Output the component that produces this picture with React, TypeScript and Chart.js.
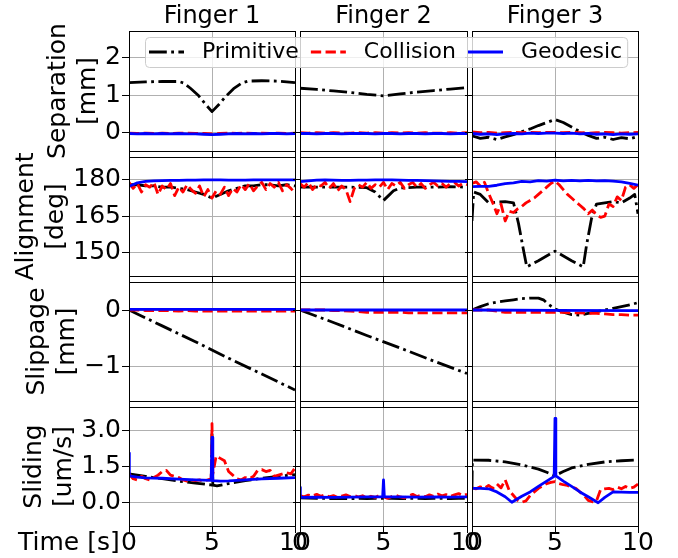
import React, { useEffect, useRef } from 'react';
import { Chart, registerables } from 'chart.js';

Chart.register(...registerables);

// ---------------- DATA ----------------
const FINGERS = ['Finger 1', 'Finger 2', 'Finger 3'];
const ROW_LABELS = [
  ['Separation', '[mm]'],
  ['Alignment', '[deg]'],
  ['Slippage', '[mm]'],
  ['Sliding', '[um/s]'],
];
const SERIES_NAMES = ['Primitive', 'Collision', 'Geodesic'];
const X_LABEL = 'Time [s]';
const X_TICKS = [0, 5, 10];
const Y_TICKS = [[0, 1, 2], [150, 165, 180], [-1, 0], [0, 1.5, 3]];
const X_RANGE = [0, 10];
const Y_RANGES = [[-0.485, 2.7], [140.2, 189.5], [-1.605, 0.494], [-0.97, 3.99]];

const T3 = [0, 5, 10];
const T21 = [0, 0.5, 1, 1.5, 2, 2.5, 3, 3.5, 4, 4.5, 5, 5.5, 6, 6.5, 7, 7.5, 8, 8.5, 9, 9.5, 10];
const T41 = [0, 0.25, 0.5, 0.75, 1, 1.25, 1.5, 1.75, 2, 2.25, 2.5, 2.75, 3, 3.25, 3.5, 3.75, 4, 4.25, 4.5, 4.75, 5,
  5.25, 5.5, 5.75, 6, 6.25, 6.5, 6.75, 7, 7.25, 7.5, 7.75, 8, 8.25, 8.5, 8.75, 9, 9.25, 9.5, 9.75, 10];

// Separation [mm]
const SEP_P1_T = [0, 1, 2, 3, 3.3, 3.7, 4.2, 4.6, 5, 5.4, 5.8, 6.3, 6.8, 7.2, 8, 9, 10];
const SEP_P1 = [1.33, 1.35, 1.36, 1.36, 1.32, 1.18, 0.98, 0.76, 0.56, 0.74, 0.95, 1.17, 1.32, 1.37, 1.38, 1.37, 1.33];
const SEP_C1 = [-0.01, -0.02, -0.01, -0.02, -0.01, -0.02, -0.01, -0.01, -0.02, -0.02, -0.03, -0.02, -0.01, -0.02, -0.01, -0.02, -0.01, -0.02, -0.01, -0.02, -0.01];
const SEP_G1 = [-0.02, -0.03, -0.02, -0.03, -0.02, -0.03, -0.02, -0.03, -0.03, -0.04, -0.05, -0.04, -0.03, -0.02, -0.03, -0.02, -0.03, -0.02, -0.02, -0.03, -0.02];
const SEP_P2_T = [0, 1, 2, 3, 4, 5, 6, 7, 8, 9, 10];
const SEP_P2 = [1.18, 1.15, 1.11, 1.07, 1.02, 0.98, 1.03, 1.08, 1.12, 1.16, 1.2];
const SEP_C2 = [0, -0.01, 0, -0.01, 0, -0.01, -0.01, 0, -0.01, 0, -0.01, 0, -0.01, 0, -0.01, 0, -0.01, -0.01, 0, -0.01, 0];
const SEP_G2 = [-0.02, -0.02, -0.03, -0.02, -0.02, -0.03, -0.02, -0.02, -0.02, -0.03, -0.02, -0.02, -0.03, -0.02, -0.02, -0.03, -0.02, -0.02, -0.03, -0.02, -0.02];
const SEP_P3 = [-0.08, -0.15, -0.12, -0.18, -0.11, -0.05, 0.03, 0.1, 0.19, 0.27, 0.35, 0.27, 0.15, 0.03, -0.07, -0.15, -0.12, -0.18, -0.13, -0.16, -0.1];
const SEP_C3 = [0.02, 0, 0.01, -0.01, 0, 0.01, 0, 0.01, 0, 0.01, 0.01, 0, 0.01, 0, -0.01, 0, 0.01, 0, -0.01, 0, 0.01];
const SEP_G3 = [-0.02, -0.04, -0.03, -0.05, -0.03, -0.02, -0.03, -0.01, -0.02, -0.01, -0.01, -0.02, -0.01, -0.03, -0.02, -0.04, -0.03, -0.05, -0.03, -0.04, -0.03];

// Alignment [deg]
const ALI_P1 = [178, 178, 177.5, 177.5, 177, 177, 176.5, 176, 175, 174, 172.5, 174, 175.5, 176.5, 177.5, 177.5, 178, 178, 177.5, 178, 177.5];
const ALI_C1 = [179, 176.5, 178.5, 175, 178, 177, 179, 174, 177.5, 176, 178.5, 173.5, 177, 175, 178, 176, 174.5, 177.5, 173, 176,
  172.5, 175.5, 174, 177, 173.5, 176.5, 175, 178, 176, 178.5, 175.5, 177.5, 179, 176, 178.5, 177, 179, 175.5, 178, 176.5, 174.5];
const ALI_G1 = [177.3, 178.8, 179.4, 179.6, 179.7, 179.8, 179.8, 179.9, 179.9, 180, 180, 180, 179.9, 179.9, 179.9, 180, 180, 180, 180, 180, 180];
const ALI_P2_T = [0, 1, 2, 3, 4, 4.5, 5, 5.3, 5.6, 6, 7, 8, 9, 10];
const ALI_P2 = [177, 177, 177, 177, 176.8, 175, 171.5, 173.5, 175.5, 176.7, 177, 177, 177.2, 177];
const ALI_C2 = [178.5, 177, 179, 176, 178, 177.5, 179, 176.5, 178.5, 175.5, 177.5, 176, 171, 176.5, 178, 177, 179, 176.5, 178, 177,
  179, 176, 178.5, 177.5, 179, 176.5, 178, 179, 177, 178.5, 176.5, 178, 179, 177.5, 178.5, 177, 178.5, 179, 177.5, 178.5, 178];
const ALI_G2 = [179.3, 179.6, 179.9, 180, 179.9, 179.8, 179.8, 179.9, 179.9, 180, 180, 180, 179.9, 179.8, 179.8, 179.7, 179.6, 179.5, 179.4, 179.4, 179.3];
const ALI_P3_T = [0, 0.1, 0.5, 1, 1.5, 2, 2.5, 2.8, 3.1, 3.3, 4, 5, 6, 6.7, 6.9, 7.2, 7.5, 8, 8.5, 9, 9.5, 9.8, 10];
const ALI_P3 = [163, 175, 174, 170.5, 170.8, 171, 170.5, 162, 151, 144, 146.5, 150.5, 146.5, 144, 153, 164, 170, 170.5, 171, 170.5, 172.5, 174, 166];
const ALI_C3 = [178.5, 179.2, 177.5, 179, 174.5, 170.5, 166, 170, 163, 167, 166.5, 168, 169, 170.5, 171.5, 172.5, 174, 175.5, 177, 178.5,
  179.5, 178, 176, 174, 172.5, 171, 169.5, 168, 166, 167.5, 165.5, 164.5, 165, 170, 169, 173, 171.5, 177, 178, 176.5, 178];
const ALI_G3 = [177.2, 177.3, 177.3, 177.8, 178.5, 178.8, 179.4, 179.2, 179.7, 179.5, 179.9, 179.6, 179.8, 179.6, 179.8, 179.6, 179.7, 179.5, 179.2, 178.6, 177.8];

// Slippage [mm]
const SLI_P_T = [0, 2, 4, 6, 8, 10];
const SLI_P1 = [0, -0.28, -0.56, -0.85, -1.13, -1.41];
const SLI_C1 = [0, 0, -0.01, -0.01, -0.01, -0.01, -0.02, -0.01, -0.02, -0.02, -0.02, -0.02, -0.02, -0.02, -0.02, -0.02, -0.02, -0.02, -0.02, -0.02, -0.02];
const SLI_G1 = [0.01, 0.01, 0.01];
const SLI_P2 = [0, -0.22, -0.45, -0.67, -0.9, -1.12];
const SLI_C2 = [0, 0, 0, 0, -0.01, -0.01, -0.02, -0.03, -0.04, -0.04, -0.04, -0.04, -0.04, -0.05, -0.05, -0.05, -0.05, -0.05, -0.05, -0.05, -0.05];
const SLI_G2 = [0, 0, 0];
const SLI_P3_T = [0, 0.5, 1, 1.5, 2, 2.5, 3, 3.5, 4, 4.3, 4.6, 5, 5.5, 6, 6.5, 7, 7.5, 8, 8.5, 9, 9.5, 10];
const SLI_P3 = [0, 0.06, 0.11, 0.14, 0.16, 0.18, 0.2, 0.21, 0.21, 0.18, 0.1, 0.02, -0.04, -0.08, -0.09, -0.06, -0.03, 0, 0.03, 0.06, 0.09, 0.13];
const SLI_C3 = [0, 0, 0, -0.02, -0.04, -0.04, -0.04, -0.04, -0.04, -0.04, -0.04, -0.04, -0.05, -0.05, -0.06, -0.06, -0.07, -0.08, -0.08, -0.09, -0.09];
const SLI_G3 = [0, -0.005, -0.01];

// Sliding [um/s]
const SLD_P1_T = [0, 1, 2, 3, 4, 4.95, 5, 5.05, 5.3, 6, 7, 8, 9, 10];
const SLD_P1 = [1.2, 1.1, 1.0, 0.9, 0.82, 0.74, 2.85, 0.73, 0.7, 0.8, 0.92, 1.02, 1.1, 1.17];
const SLD_C1_T = [0, 0.25, 0.5, 0.75, 1, 1.25, 1.5, 1.75, 2, 2.25, 2.5, 2.75, 3, 3.25, 3.5, 3.75, 4, 4.25, 4.5, 4.75,
  4.95, 5, 5.05, 5.25, 5.5, 5.75, 6, 6.25, 6.5, 6.75, 7, 7.25, 7.5, 7.75, 8, 8.25, 8.5, 8.75, 9, 9.25, 9.5, 9.75, 10];
const SLD_C1 = [1.2, 1.0, 0.95, 1.1, 1.0, 0.95, 1.05, 1.15, 1.3, 1.35, 1.15, 1.1, 1.05, 0.95, 0.9, 0.95, 0.92, 0.95, 0.9, 0.95,
  1.0, 3.3, 1.2, 1.95, 1.85, 1.75, 1.3, 1.15, 1.0, 0.95, 1.05, 1.0, 1.1, 1.35, 1.38, 1.3, 1.35, 1.1, 1.15, 1.2, 1.25, 1.2, 1.45];
const SLD_G1_T = [0, 0.02, 0.5, 1, 2, 3, 4, 4.95, 5, 5.05, 5.5, 6, 7, 8, 9, 10];
const SLD_G1 = [2.07, 1.12, 1.07, 1.04, 1.02, 0.98, 0.95, 0.93, 2.72, 0.92, 0.9, 0.91, 0.95, 0.99, 1.02, 1.05];
const SLD_P2 = [0.2, 0.19, 0.18, 0.18, 0.17, 0.18, 0.17, 0.18, 0.17, 0.18, 0.18, 0.18, 0.17, 0.18, 0.18, 0.17, 0.18, 0.18, 0.17, 0.18, 0.18];
const SLD_C2 = [0.3, 0.25, 0.32, 0.28, 0.35, 0.27, 0.33, 0.25, 0.3, 0.22, 0.28, 0.33, 0.26, 0.3, 0.24, 0.29, 0.2, 0.27, 0.22, 0.3,
  0.25, 0.18, 0.26, 0.31, 0.24, 0.2, 0.28, 0.35, 0.26, 0.31, 0.25, 0.33, 0.27, 0.36, 0.29, 0.34, 0.27, 0.33, 0.38, 0.3, 0.35];
const SLD_G2_T = [0, 0.02, 1, 2, 3, 4, 4.95, 5, 5.05, 6, 7, 8, 9, 10];
const SLD_G2 = [0.64, 0.22, 0.23, 0.22, 0.23, 0.24, 0.25, 0.95, 0.25, 0.24, 0.23, 0.24, 0.23, 0.24];
const SLD_P3_T = [0, 0.02, 1, 2, 3, 4, 4.5, 5, 5.5, 6, 7, 8, 9, 10];
const SLD_P3 = [0.6, 1.78, 1.77, 1.7, 1.58, 1.4, 1.27, 1.13, 1.3, 1.45, 1.6, 1.7, 1.75, 1.78];
const SLD_C3 = [0.62, 0.58, 0.66, 0.6, 0.72, 0.6, 0.78, 0.62, 0.95, 0.5, 0.3, 0.1, 0.02, 0.08, 0.3, 0.45, 0.6, 0.7, 0.8, 0.85,
  0.88, 0.8, 0.75, 0.72, 0.65, 0.6, 0.45, 0.3, 0.1, 0.04, 0.08, 0.55, 0.58, 0.6, 0.55, 0.65, 0.58, 0.68, 0.6, 0.65, 0.78];
const SLD_G3_T = [0, 0.5, 1, 1.5, 2, 2.4, 3, 3.5, 4, 4.5, 4.95, 5, 5.05, 5.5, 6, 6.5, 7, 7.6, 8, 8.5, 9, 9.5, 10];
const SLD_G3 = [0.6, 0.6, 0.58, 0.45, 0.25, 0.02, 0.27, 0.45, 0.68, 0.9, 1.1, 3.52, 1.12, 0.9, 0.68, 0.45, 0.25, 0.0, 0.22, 0.45, 0.44, 0.43, 0.43];

type Series = { t: number[]; v: number[] };
const S = (t: number[], v: number[]): Series => ({ t, v });

// PANELS[row][col] = [Primitive, Collision, Geodesic]
const PANELS: Series[][][] = [
  [
    [S(SEP_P1_T, SEP_P1), S(T21, SEP_C1), S(T21, SEP_G1)],
    [S(SEP_P2_T, SEP_P2), S(T21, SEP_C2), S(T21, SEP_G2)],
    [S(T21, SEP_P3), S(T21, SEP_C3), S(T21, SEP_G3)],
  ],
  [
    [S(T21, ALI_P1), S(T41, ALI_C1), S(T21, ALI_G1)],
    [S(ALI_P2_T, ALI_P2), S(T41, ALI_C2), S(T21, ALI_G2)],
    [S(ALI_P3_T, ALI_P3), S(T41, ALI_C3), S(T21, ALI_G3)],
  ],
  [
    [S(SLI_P_T, SLI_P1), S(T21, SLI_C1), S(T3, SLI_G1)],
    [S(SLI_P_T, SLI_P2), S(T21, SLI_C2), S(T3, SLI_G2)],
    [S(SLI_P3_T, SLI_P3), S(T21, SLI_C3), S(T3, SLI_G3)],
  ],
  [
    [S(SLD_P1_T, SLD_P1), S(SLD_C1_T, SLD_C1), S(SLD_G1_T, SLD_G1)],
    [S(T21, SLD_P2), S(T41, SLD_C2), S(SLD_G2_T, SLD_G2)],
    [S(SLD_P3_T, SLD_P3), S(T41, SLD_C3), S(SLD_G3_T, SLD_G3)],
  ],
];

// ---------------- LAYOUT / STYLE ----------------
const W = 678;
const H = 558;
const FONT = 'DejaVu Sans';
const COL_L = [129, 300, 472];
const COL_R = [295, 467, 638];
const ROW_T = [31, 157, 282, 407];
const ROW_B = [151, 276, 401, 526];
// x position of the middle of the first y-label line, per row (label sits left of widest tick label)
const YLABEL_MID = [58.4, 26.6, 37.4, 34.6];
const TICK_LEN = 7;
const LW = 2.8;
const TICK_FONT = 25;
const TITLE_FONT = 24;
const LEGEND_FONT = 22;
const LINE_STYLES = [
  { color: '#000000', dash: [17.8, 4.4, 2.8, 4.4], order: 3 },
  { color: '#ff0000', dash: [10.3, 4.4], order: 2 },
  { color: '#0000ff', dash: [] as number[], order: 1 },
];

Chart.defaults.font.family = FONT;
Chart.defaults.color = '#000';

const fmtTick = (r: number) => (v: number | string) => {
  const n = Number(v);
  const s = r === 3 ? Math.abs(n).toFixed(1) : String(Math.abs(n));
  return n < 0 ? '\u2212' + s : s;
};

const framePlugin = {
  id: 'frame',
  afterDatasetsDraw(chart: any) {
    const { ctx, chartArea: a } = chart;
    ctx.save();
    ctx.strokeStyle = '#000';
    ctx.lineWidth = 1;
    ctx.strokeRect(a.left + 0.5, a.top + 0.5, a.right - a.left, a.bottom - a.top);
    ctx.restore();
  },
};

function panelConfig(r: number, c: number): any {
  const isLeft = c === 0;
  const isTop = r === 0;
  const isBottom = r === 3;
  const padLeft = isLeft ? (isBottom ? 18 : 0) : COL_L[c] - TICK_LEN;
  const yW = COL_L[c] - padLeft;
  const titleH = TITLE_FONT * 1.2;
  const padTop = isTop ? ROW_T[r] - titleH : ROW_T[r];
  const xH = isBottom ? H - ROW_B[r] : TICK_LEN;
  const padBottom = H - ROW_B[r] - xH;
  const yTitlePad = YLABEL_MID[r] - padLeft - (TICK_FONT * 1.2) / 2;

  const datasets = PANELS[r][c].map((s, i) => ({
    label: SERIES_NAMES[i],
    data: s.t.map((t, k) => ({ x: t, y: s.v[k] })),
    borderColor: LINE_STYLES[i].color,
    backgroundColor: LINE_STYLES[i].color,
    borderDash: LINE_STYLES[i].dash,
    borderWidth: LW,
    borderJoinStyle: 'round',
    borderCapStyle: 'butt',
    pointRadius: 0,
    tension: 0,
    fill: false,
    clip: 0,
    order: LINE_STYLES[i].order,
  }));

  const gridOpts = {
    color: '#b0b0b0',
    lineWidth: 1,
    drawTicks: true,
    tickLength: TICK_LEN,
    tickColor: '#000',
    tickWidth: 1,
  };

  return {
    type: 'line',
    data: { datasets },
    options: {
      responsive: false,
      animation: false,
      devicePixelRatio: 1,
      events: [],
      layout: { padding: { left: padLeft, right: W - COL_R[c], top: padTop, bottom: padBottom } },
      plugins: {
        legend: { display: false },
        tooltip: { enabled: false },
        title: {
          display: isTop,
          text: FINGERS[c],
          color: '#000',
          font: { family: FONT, size: TITLE_FONT, lineHeight: 1.2, weight: 'normal' },
          padding: 0,
          fullSize: false,
        },
        subtitle: {
          // zero-height box under the x axis; text pulled up onto the tick-label line
          display: isBottom && isLeft,
          text: X_LABEL,
          position: 'bottom',
          align: 'start',
          color: '#000',
          font: { family: FONT, size: TICK_FONT, lineHeight: 1.2, weight: 'normal' },
          padding: { top: -30, bottom: 0 },
          fullSize: true,
        },
      },
      scales: {
        x: {
          type: 'linear',
          min: X_RANGE[0],
          max: X_RANGE[1],
          afterBuildTicks: (axis: any) => { axis.ticks = X_TICKS.map((v) => ({ value: v })); },
          afterFit: (s: any) => {
            s.height = xH; s.paddingLeft = 0; s.paddingRight = 0; s.paddingTop = 0; s.paddingBottom = 0;
          },
          grid: gridOpts,
          border: { display: false },
          ticks: {
            display: isBottom,
            autoSkip: false,
            maxRotation: 0,
            minRotation: 0,
            padding: -2.5,
            color: '#000',
            font: { family: FONT, size: TICK_FONT, lineHeight: 1 },
            callback: fmtTick(0),
          },
        },
        y: {
          type: 'linear',
          min: Y_RANGES[r][0],
          max: Y_RANGES[r][1],
          afterBuildTicks: (axis: any) => { axis.ticks = Y_TICKS[r].map((v) => ({ value: v })); },
          afterFit: (s: any) => {
            s.width = yW; s.paddingLeft = 0; s.paddingRight = 0; s.paddingTop = 0; s.paddingBottom = 0;
          },
          grid: gridOpts,
          border: { display: false },
          ticks: {
            display: isLeft,
            autoSkip: false,
            padding: 1,
            color: '#000',
            font: { family: FONT, size: TICK_FONT, lineHeight: 1 },
            callback: fmtTick(r),
          },
          title: {
            display: isLeft,
            text: ROW_LABELS[r],
            color: '#000',
            font: { family: FONT, size: TICK_FONT, lineHeight: 1.2 },
            padding: { top: yTitlePad, bottom: 0 },
          },
        },
      },
    },
    plugins: [framePlugin],
  };
}

const legendBoxPlugin = {
  id: 'legendBox',
  beforeDraw(chart: any) {
    const hb = chart.legend && chart.legend.legendHitBoxes;
    if (!hb || !hb.length) return;
    const x0 = Math.min(...hb.map((h: any) => h.left)) - 4;
    const x1 = Math.max(...hb.map((h: any) => h.left + h.width)) + 5;
    const y0 = Math.min(...hb.map((h: any) => h.top)) - 4;
    const y1 = Math.max(...hb.map((h: any) => h.top + h.height)) + 4;
    const ctx = chart.ctx;
    ctx.save();
    ctx.beginPath();
    ctx.roundRect(x0 + 0.5, y0 + 0.5, x1 - x0, y1 - y0, 4);
    ctx.fillStyle = 'rgba(255,255,255,0.8)';
    ctx.fill();
    ctx.strokeStyle = '#cccccc';
    ctx.lineWidth = 1;
    ctx.stroke();
    ctx.restore();
  },
};

function legendConfig(): any {
  return {
    type: 'line',
    data: {
      datasets: SERIES_NAMES.map((n, i) => ({
        label: n,
        data: [],
        borderColor: LINE_STYLES[i].color,
        borderDash: LINE_STYLES[i].dash,
        borderWidth: LW,
      })),
    },
    options: {
      responsive: false,
      animation: false,
      devicePixelRatio: 1,
      events: [],
      layout: { padding: { left: 137, top: 29, right: 0, bottom: 0 } },
      scales: { x: { display: false }, y: { display: false } },
      plugins: {
        tooltip: { enabled: false },
        title: { display: false },
        legend: {
          display: true,
          position: 'top',
          align: 'start',
          labels: {
            usePointStyle: true,
            pointStyle: 'line',
            pointStyleWidth: 35,
            padding: 12,
            color: '#000',
            font: { family: FONT, size: LEGEND_FONT },
            generateLabels: () =>
              SERIES_NAMES.map((n, i) => ({
                text: ' ' + n,
                fillStyle: LINE_STYLES[i].color,
                strokeStyle: LINE_STYLES[i].color,
                fontColor: '#000',
                lineWidth: LW,
                lineDash: LINE_STYLES[i].dash,
                lineCap: 'butt',
                pointStyle: 'line',
                rotation: 180,
                hidden: false,
                datasetIndex: i,
              })),
          },
        },
      },
    },
    plugins: [legendBoxPlugin],
  };
}

export default function App() {
  const refs = useRef<(HTMLCanvasElement | null)[]>([]);

  useEffect(() => {
    const charts: Chart[] = [];
    let k = 0;
    for (let r = 0; r < 4; r++) {
      for (let c = 0; c < 3; c++) {
        const cv = refs.current[k++];
        if (cv) charts.push(new Chart(cv, panelConfig(r, c)));
      }
    }
    const lc = refs.current[12];
    if (lc) charts.push(new Chart(lc, legendConfig()));
    return () => charts.forEach((ch) => ch.destroy());
  }, []);

  return (
    <div style={{ position: 'absolute', left: 0, top: 0, width: W, height: H, background: '#ffffff' }}>
      {Array.from({ length: 13 }).map((_, i) => (
        <canvas
          key={i}
          ref={(el) => { refs.current[i] = el; }}
          width={W}
          height={H}
          style={{ position: 'absolute', left: 0, top: 0, width: W, height: H }}
        />
      ))}
    </div>
  );
}
